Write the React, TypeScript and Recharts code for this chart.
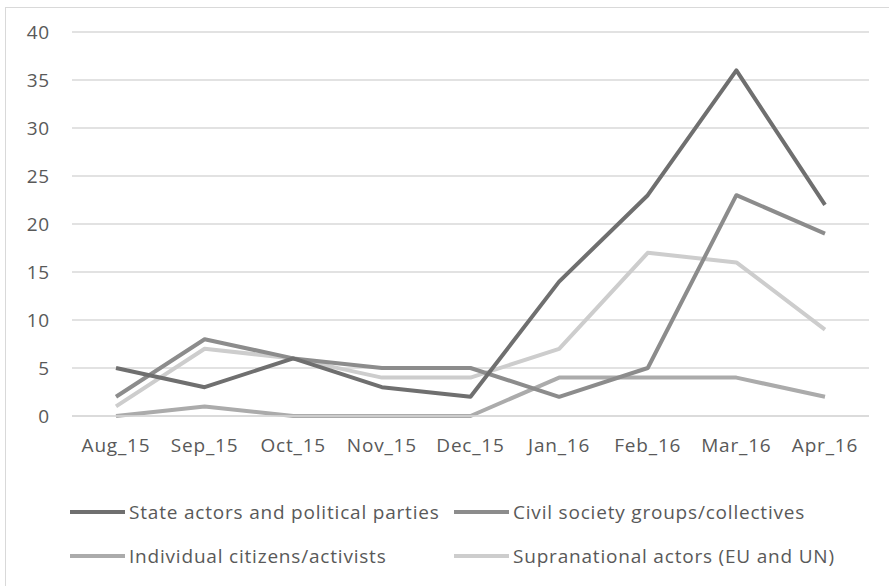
import React from 'react';
import { LineChart, Line, XAxis, YAxis, CartesianGrid } from 'recharts';

const months = ['Aug_15', 'Sep_15', 'Oct_15', 'Nov_15', 'Dec_15', 'Jan_16', 'Feb_16', 'Mar_16', 'Apr_16'];

const stateActors = [5, 3, 6, 3, 2, 14, 23, 36, 22];
const civilSociety = [2, 8, 6, 5, 5, 2, 5, 23, 19];
const individuals = [0, 1, 0, 0, 0, 4, 4, 4, 2];
const supranational = [1, 7, 6, 4, 4, 7, 17, 16, 9];

const yTicks = [0, 5, 10, 15, 20, 25, 30, 35, 40];

const series = [
  { key: 'state', name: 'State actors and political parties', values: stateActors, color: '#6f6f6f' },
  { key: 'civil', name: 'Civil society groups/collectives', values: civilSociety, color: '#8c8c8c' },
  { key: 'indiv', name: 'Individual citizens/activists', values: individuals, color: '#ababab' },
  { key: 'supra', name: 'Supranational actors (EU and UN)', values: supranational, color: '#cdcdcd' },
];

const data = months.map((m, i) => {
  const row: Record<string, string | number> = { month: m };
  series.forEach((s) => {
    row[s.key] = s.values[i];
  });
  return row;
});

const FONT = '"Open Sans", Lato, sans-serif';
const TEXT = '#595959';
const tickStyle = { fill: TEXT, fontSize: 19, fontFamily: FONT, letterSpacing: 0.8 };

// drawn in the order Excel stacks them (last on top)
const drawOrder = ['indiv', 'supra', 'civil', 'state'];

export default function App() {
  return (
    <div
      style={{
        position: 'absolute',
        left: 5,
        top: 7,
        width: 884,
        height: 590,
        border: '1px solid #d9d9d9',
        background: '#fff',
        fontFamily: FONT,
      }}
    >
      <LineChart
        width={882}
        height={470}
        data={data}
        margin={{ top: 24, right: 19, bottom: 0, left: 0 }}
      >
        <CartesianGrid vertical={false} stroke="#d9d9d9" strokeWidth={1.5} />
        <XAxis
          dataKey="month"
          height={62}
          padding={{ left: 44, right: 44 }}
          tickLine={false}
          tickSize={0}
          tickMargin={23}
          axisLine={{ stroke: '#d9d9d9', strokeWidth: 1.5 }}
          tick={tickStyle}
          interval={0}
        />
        <YAxis
          width={66}
          domain={[0, 40]}
          ticks={yTicks}
          axisLine={false}
          tickLine={false}
          tickSize={0}
          tickMargin={22}
          tick={tickStyle}
        />
        {drawOrder.map((k) => {
          const s = series.find((x) => x.key === k)!;
          return (
            <Line
              key={s.key}
              type="linear"
              dataKey={s.key}
              name={s.name}
              stroke={s.color}
              strokeWidth={4}
              dot={false}
              activeDot={false}
              isAnimationActive={false}
              strokeLinejoin="round"
            />
          );
        })}
      </LineChart>
      <div
        style={{
          position: 'absolute',
          left: 64,
          top: 493,
          display: 'grid',
          gridTemplateColumns: '384px 400px',
          rowGap: 22,
        }}
      >
        {series.map((s) => (
          <div key={s.key} style={{ display: 'flex', alignItems: 'center', height: 22 }}>
            <span style={{ display: 'inline-block', width: 55, height: 4, background: s.color, marginRight: 4 }} />
            <span style={{ color: TEXT, fontSize: 19, letterSpacing: 0.8, whiteSpace: 'nowrap' }}>{s.name}</span>
          </div>
        ))}
      </div>
    </div>
  );
}
